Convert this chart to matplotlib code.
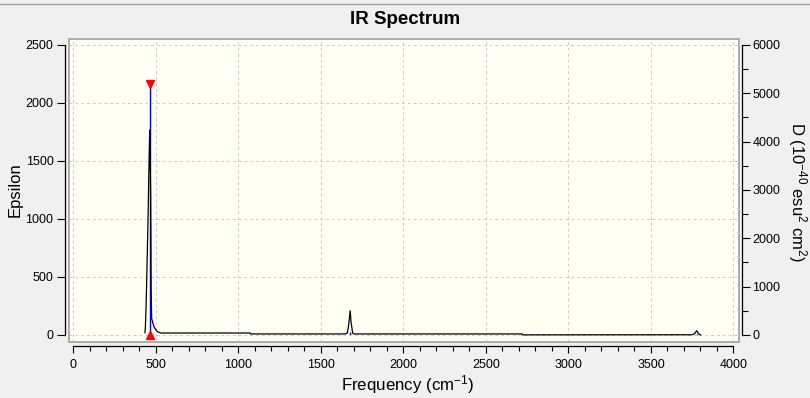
import matplotlib.pyplot as plt
from matplotlib.lines import Line2D
from matplotlib.patches import Rectangle
from matplotlib.ticker import MultipleLocator

plt.rcParams['font.family'] = ['Liberation Sans', 'DejaVu Sans']
plt.rcParams['mathtext.default'] = 'regular'

# broadened spectrum (Epsilon)
freq_cm = [433, 436, 441, 447, 452, 456, 462, 466, 468, 471, 474, 482, 490,
           500, 512, 530, 1070, 1072, 1645, 1660, 1668, 1677, 1682, 1692,
           1700, 2720, 2722, 3748, 3765, 3772, 3777, 3783, 3792, 3801]
epsilon = [20, 69, 300, 675, 1000, 1336, 1767, 1400, 1164, 362, 140, 100, 65,
           43, 26, 17, 17, 9, 9, 17, 86, 209, 115, 17,
           9, 9, 1, 2, 12, 26, 37, 22, 6, 1]

# stick spectrum (D, right axis)
stick_freq = [462, 1677, 3777]
stick_d = [5190, 70, 20]

# selected peak markers
sel_freq = 462
sel_eps = 2164

fig = plt.figure(figsize=(8.1, 3.98), dpi=100, facecolor='#f0f0f0')
ax = fig.add_axes([0.0848, 0.1415, 0.827, 0.7606])
ax2 = ax.twinx()

# sticks go underneath the curve
ax2.set_zorder(0)
ax.set_zorder(1)
ax.patch.set_visible(False)
ax2.patch.set_visible(True)
ax2.patch.set_facecolor('#fffff4')

ax2.vlines(stick_freq, 0, stick_d, color='blue', lw=1.0)
ax.plot(freq_cm, epsilon, color='black', lw=0.9)
ax.plot(sel_freq, sel_eps, marker='v', color='red', ms=6, ls='None', clip_on=False)
ax.plot(sel_freq, 0, marker='^', color='red', ms=6, ls='None', clip_on=False)

ax.set_xlim(-29, 4031)
ax.set_ylim(-57.8, 2551.7)
ax2.set_ylim(-138.7, 6124)

# grid
ax.xaxis.set_major_locator(MultipleLocator(500))
ax.xaxis.set_minor_locator(MultipleLocator(100))
ax.yaxis.set_major_locator(MultipleLocator(500))
ax2.yaxis.set_major_locator(MultipleLocator(1000))
ax2.yaxis.set_minor_locator(MultipleLocator(500))
ax.grid(True, which='major', color='#cccccc', ls=(0, (3, 3)), lw=0.7)
ax.set_axisbelow(True)

# spines: detached black axes, grey frame round the plot
for a in (ax, ax2):
    a.spines['top'].set_visible(False)
ax.spines['right'].set_visible(False)
ax2.spines['left'].set_visible(False)
ax2.spines['bottom'].set_visible(False)

ax.spines['left'].set_position(('outward', 2.4))
ax.spines['left'].set_bounds(0, 2500)
ax.spines['bottom'].set_position(('outward', 3.2))
ax.spines['bottom'].set_bounds(0, 4000)
ax2.spines['right'].set_position(('outward', 2.2))
ax2.spines['right'].set_bounds(0, 6000)
for sp in (ax.spines['left'], ax.spines['bottom'], ax2.spines['right']):
    sp.set_color('black')
    sp.set_linewidth(0.9)

ax.add_patch(Rectangle((0, 0), 1, 1, transform=ax.transAxes, fill=False,
                       ec='#a0a0a0', lw=1.2, clip_on=False, zorder=5))

ax.tick_params(axis='y', direction='out', length=5.5, width=0.8, pad=3, labelsize=9)
ax.tick_params(axis='x', which='major', direction='out', length=5, width=0.8, pad=4, labelsize=9)
ax.tick_params(axis='x', which='minor', direction='out', length=3.5, width=0.8)
ax2.tick_params(axis='y', which='major', direction='out', length=5.8, width=0.8, pad=2, labelsize=9)
ax2.tick_params(axis='y', which='minor', direction='out', length=4.3, width=0.8)

# labels
fig.text(0.5, 1 - 20 / 398, 'IR Spectrum', ha='center', va='center',
         fontsize=13.5, fontweight='bold')
fig.text(408 / 810, 1 - 385 / 398, 'Frequency (cm$^{-1}$)', ha='center', va='center',
         fontsize=12.2)
fig.text(15 / 810, 1 - 190 / 398, 'Epsilon', rotation=90, ha='center', va='center',
         fontsize=12)
fig.text(797 / 810, 1 - 192 / 398, 'D (10$^{-40}$ esu$^{2}$ cm$^{2}$)', rotation=-90,
         ha='center', va='center', fontsize=12)

fig.add_artist(Line2D([0, 1], [1 - 3.5 / 398] * 2, transform=fig.transFigure,
                      color='#a0a0a0', lw=1))

fig.savefig('out.png', dpi=100, facecolor=fig.get_facecolor())
